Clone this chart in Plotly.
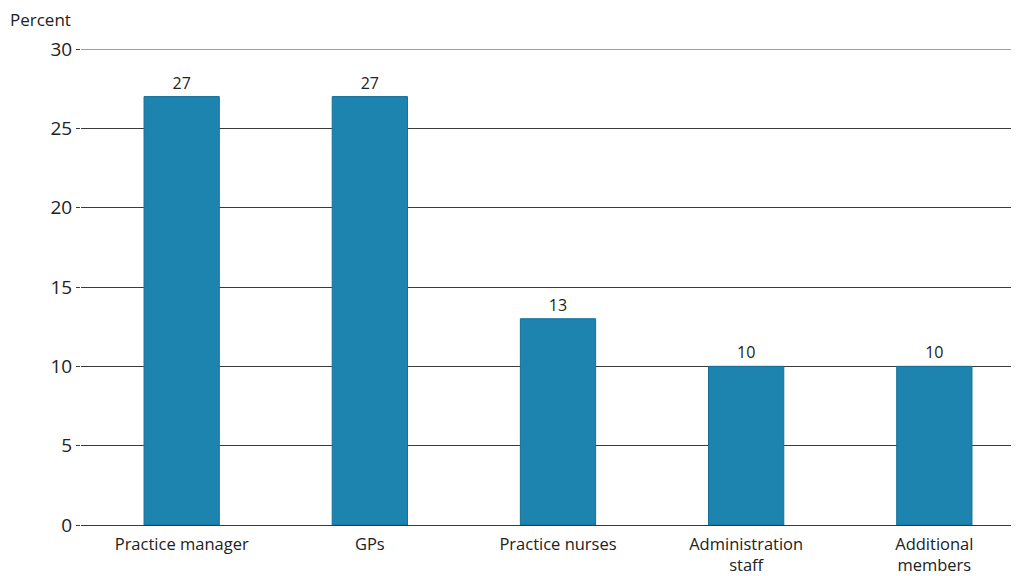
import plotly.graph_objects as go

categories = ["Practice manager", "GPs", "Practice nurses", "Administration<br>staff", "Additional<br>members"]
percent = [27, 27, 13, 10, 10]
y_ticks = [0, 5, 10, 15, 20, 25, 30]

FONT = "Open Sans, Noto Sans, sans-serif"

fig = go.Figure()
fig.add_trace(
    go.Bar(
        x=list(range(len(categories))),
        y=percent,
        width=0.4,
        marker=dict(color="#1c84ae", line=dict(color="#176f98", width=1)),
        text=[str(v) for v in percent],
        textposition="outside",
        textfont=dict(size=16, color="#222222", family=FONT),
        cliponaxis=False,
        hoverinfo="skip",
    )
)

# page body adds an 8px offset, so the figure is sized 8px smaller
fig.update_layout(
    width=1011,
    height=568,
    plot_bgcolor="white",
    paper_bgcolor="white",
    margin=dict(l=73, r=0, t=41, b=51, autoexpand=False),
    showlegend=False,
    font=dict(family=FONT, color="#222222"),
    xaxis=dict(
        range=[-0.535, 4.45],
        tickvals=list(range(len(categories))),
        ticktext=categories,
        tickfont=dict(size=16.5, color="#222222"),
        ticklabelstandoff=7,
        showgrid=False,
        zeroline=False,
        showline=False,
        ticks="",
        automargin=False,
    ),
    yaxis=dict(
        range=[0, 30],
        tickvals=y_ticks,
        tickfont=dict(size=19, color="#222222"),
        showgrid=True,
        gridcolor="#3a3a3a",
        gridwidth=1,
        zeroline=True,
        zerolinecolor="#3a3a3a",
        zerolinewidth=1,
        ticks="outside",
        ticklen=4,
        tickcolor="#3a3a3a",
        ticklabelstandoff=0,
        showline=False,
        automargin=False,
    ),
    shapes=[
        dict(type="line", xref="paper", yref="y", x0=0, x1=1, y0=30, y1=30,
             line=dict(color="#3a3a3a", width=1), layer="below")
    ],
    annotations=[
        dict(
            text="Percent",
            xref="paper",
            yref="paper",
            x=(8 - 81) / 938,
            y=1 + (49 - 20) / 476,
            xanchor="left",
            yanchor="middle",
            showarrow=False,
            font=dict(size=17, color="#222222"),
        )
    ],
)

fig.write_html("out.html")
